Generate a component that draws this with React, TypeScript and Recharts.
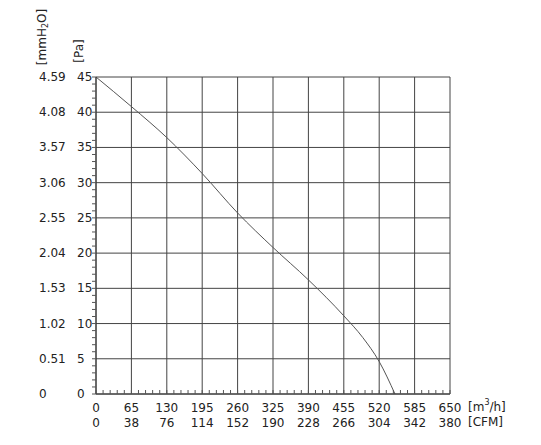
import { LineChart, Line, XAxis, YAxis, CartesianGrid } from 'recharts';

// fan curve: flow in m³/h, static pressure in Pa
const flow = [0, 65, 130, 195, 260, 325, 390, 455, 490, 520, 549];
const pressure = [45, 40.8, 36.4, 31.3, 25.7, 20.8, 16.2, 11.1, 8.0, 4.6, 0];

const flowTicks = [0, 65, 130, 195, 260, 325, 390, 455, 520, 585, 650];
const cfmLabels = ['0', '38', '76', '114', '152', '190', '228', '266', '304', '342', '380'];
const paTicks = [0, 5, 10, 15, 20, 25, 30, 35, 40, 45];
const mmLabels = ['0', '0.51', '1.02', '1.53', '2.04', '2.55', '3.06', '3.57', '4.08', '4.59'];

// small ticks: 5 per grid step on x, every 1 Pa on y
const flowMinor = Array.from({ length: 51 }, (_, i) => i * 13);
const paMinor = Array.from({ length: 46 }, (_, i) => i);

const data = flow.map((f, i) => ({ flow: f, pa: pressure[i] }));

const FONT = '"DejaVu Sans", Verdana, sans-serif';
const TEXT = '#222';
const TICK = '#555';

const FlowTick = ({ x, y, payload }: any) => {
    const i = flowTicks.indexOf(payload.value);
    return (
        <g>
            <line x1={x} x2={x} y1={y} y2={y - 4} stroke={TICK} />
            {i >= 0 && (
                <g fontFamily={FONT} fontSize={12} fill={TEXT}>
                    <text x={x} y={y + 14} textAnchor='middle' dominantBaseline='central'>
                        {payload.value}
                    </text>
                    <text x={x} y={y + 29} textAnchor='middle' dominantBaseline='central'>
                        {cfmLabels[i]}
                    </text>
                </g>
            )}
        </g>
    );
};

const PaTick = ({ x, y, payload }: any) => {
    const i = paTicks.indexOf(payload.value);
    return (
        <g>
            <line x1={x - 4} x2={x} y1={y} y2={y} stroke={TICK} />
            {i >= 0 && (
                <g fontFamily={FONT} fontSize={12} fill={TEXT}>
                    <text x={x - 19} y={y} textAnchor='start' dominantBaseline='central'>
                        {payload.value}
                    </text>
                    <text x={x - 57} y={y} textAnchor='start' dominantBaseline='central'>
                        {mmLabels[i]}
                    </text>
                </g>
            )}
        </g>
    );
};

export default function App() {
    return (
        <div style={{ position: 'absolute', left: 0, top: 0, width: 541, height: 445, background: '#fff' }}>
            <LineChart
                width={541}
                height={445}
                data={data}
                margin={{ top: 77, right: 91, bottom: 11, left: 36 }}
            >
                <XAxis
                    dataKey='flow'
                    type='number'
                    domain={[0, 650]}
                    ticks={flowMinor}
                    interval={0}
                    height={40}
                    tickSize={0}
                    tickMargin={0}
                    tickLine={false}
                    axisLine={{ stroke: '#333' }}
                    tick={FlowTick}
                />
                <YAxis
                    type='number'
                    domain={[0, 45]}
                    ticks={paMinor}
                    interval={0}
                    width={60}
                    tickSize={0}
                    tickMargin={0}
                    tickLine={false}
                    axisLine={{ stroke: '#333' }}
                    tick={PaTick}
                />
                <CartesianGrid
                    stroke='#444'
                    strokeWidth={1}
                    verticalValues={flowTicks}
                    horizontalValues={paTicks}
                />
                <Line
                    type='monotone'
                    dataKey='pa'
                    stroke='#555'
                    strokeWidth={1}
                    dot={false}
                    isAnimationActive={false}
                />
            </LineChart>
            <svg
                width={541}
                height={445}
                style={{ position: 'absolute', left: 0, top: 0, pointerEvents: 'none' }}
                fontFamily={FONT}
                fontSize={12}
                fill={TEXT}
            >
                <text x={42} y={37} transform='rotate(-90 42 37)' textAnchor='middle' dominantBaseline='central'>
                    [mmH<tspan fontSize={8} dy={3}>2</tspan><tspan dy={-3}>O]</tspan>
                </text>
                <text x={79} y={51} transform='rotate(-90 79 51)' textAnchor='middle' dominantBaseline='central'>
                    [Pa]
                </text>
                <text x={468} y={407} dominantBaseline='central'>
                    [m<tspan fontSize={8} dy={-5}>3</tspan><tspan dy={5}>/h]</tspan>
                </text>
                <text x={468} y={422} dominantBaseline='central'>
                    [CFM]
                </text>
            </svg>
        </div>
    );
}
